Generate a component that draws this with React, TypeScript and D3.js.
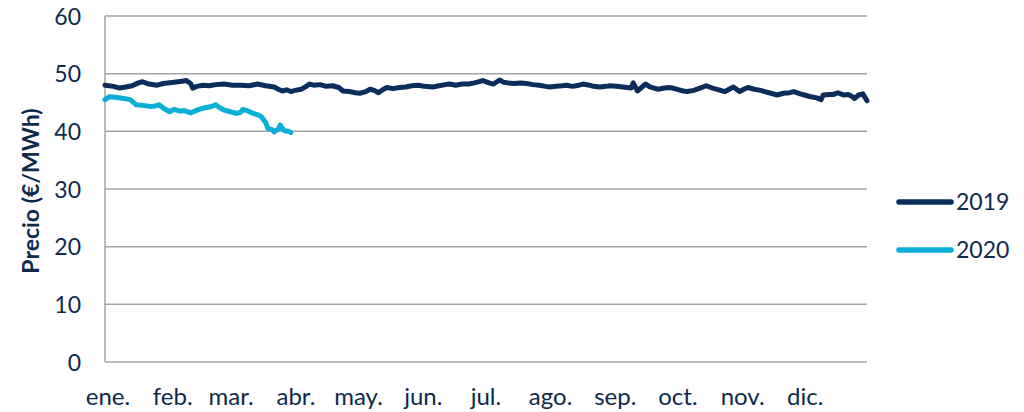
import React, { useEffect, useRef } from 'react';
import * as d3 from 'd3';

// day of year -> price (€/MWh)
const days2019 = [0, 4, 7, 10, 13, 16, 18, 21, 25, 28, 30, 33, 35, 37, 39, 41, 42, 44, 47, 50, 53, 57, 61, 65, 69, 73, 77, 81, 83, 85, 87, 89, 91, 94, 96, 98, 100, 103, 106, 109, 112, 114, 117, 120, 122, 125, 127, 129, 131, 133, 135, 138, 141, 144, 147, 150, 153, 157, 160, 163, 165, 168, 171, 174, 177, 181, 184, 186, 189, 191, 193, 196, 199, 202, 205, 208, 211, 213, 216, 219, 221, 224, 227, 229, 232, 234, 237, 240, 242, 245, 248, 250, 252, 253, 255, 257, 259, 261, 263, 265, 268, 270, 272, 275, 277, 279, 282, 285, 288, 291, 294, 297, 299, 301, 304, 306, 308, 311, 314, 316, 319, 322, 325, 328, 330, 333, 335, 338, 341, 343, 344, 347, 349, 351, 353, 354, 356, 358, 359, 361, 363, 365];
const values2019 = [48.0, 47.8, 47.5, 47.7, 47.9, 48.4, 48.6, 48.2, 48.0, 48.3, 48.4, 48.5, 48.6, 48.7, 48.8, 48.3, 47.5, 47.8, 48.0, 47.9, 48.1, 48.2, 48.0, 48.0, 47.9, 48.2, 47.9, 47.7, 47.3, 47.0, 47.2, 46.9, 47.1, 47.3, 47.7, 48.2, 48.0, 48.1, 47.8, 47.9, 47.6, 47.0, 46.9, 46.7, 46.6, 46.9, 47.3, 47.1, 46.7, 47.2, 47.6, 47.4, 47.6, 47.7, 47.9, 48.0, 47.8, 47.7, 47.9, 48.1, 48.2, 48.0, 48.2, 48.2, 48.4, 48.8, 48.4, 48.2, 48.9, 48.5, 48.4, 48.3, 48.4, 48.3, 48.1, 48.0, 47.8, 47.7, 47.8, 47.9, 48.0, 47.8, 48.0, 48.2, 48.0, 47.8, 47.7, 47.8, 47.9, 47.8, 47.7, 47.6, 47.5, 48.4, 47.0, 47.6, 48.2, 47.7, 47.5, 47.3, 47.5, 47.6, 47.5, 47.2, 47.0, 46.9, 47.1, 47.5, 47.9, 47.5, 47.2, 46.9, 47.3, 47.7, 46.9, 47.3, 47.6, 47.3, 47.1, 46.9, 46.6, 46.3, 46.6, 46.7, 46.9, 46.5, 46.3, 46.0, 45.8, 45.5, 46.3, 46.4, 46.4, 46.7, 46.4, 46.3, 46.4, 46.0, 45.7, 46.3, 46.5, 45.3];

const days2020 = [0, 2, 5, 9, 12, 15, 18, 22, 24, 26, 28, 31, 33, 36, 38, 41, 43, 45, 48, 51, 53, 55, 57, 60, 63, 65, 66, 68, 71, 73, 75, 77, 78, 80, 81, 83, 84, 85, 86, 88, 89];
const values2020 = [45.5, 46.0, 45.9, 45.7, 45.5, 44.6, 44.5, 44.3, 44.4, 44.6, 44.0, 43.4, 43.8, 43.5, 43.6, 43.2, 43.5, 43.8, 44.1, 44.3, 44.6, 44.1, 43.7, 43.4, 43.1, 43.3, 43.8, 43.6, 43.1, 42.9, 42.5, 41.5, 40.5, 40.3, 39.9, 40.4, 41.1, 40.5, 40.1, 40.0, 39.8];

const monthLabels = ['ene.', 'feb.', 'mar.', 'abr.', 'may.', 'jun.', 'jul.', 'ago.', 'sep.', 'oct.', 'nov.', 'dic.'];
const monthStarts = [0, 31, 59, 90, 120, 151, 181, 212, 243, 273, 304, 334];
const yTicks = [0, 10, 20, 30, 40, 50, 60];

const seriesNames = ['2019', '2020'];
const seriesColors = ['#0C2D5A', '#0AAFD6'];

const App = () => {
  const svgRef = useRef<SVGSVGElement>(null);

  useEffect(() => {
    const width = 1024;
    const height = 412;
    const left = 105;
    const right = 867;
    const top = 16;
    const bottom = 362;
    const textColor = '#0E2A4D';
    const font = 'Lato, "Open Sans", sans-serif';

    const svg = d3.select(svgRef.current);
    svg.selectAll('*').remove();
    svg.attr('width', width).attr('height', height);

    const x = d3.scaleLinear().domain([0, 365]).range([left, right]);
    const y = d3.scaleLinear().domain([0, 60]).range([bottom, top]);

    // gridlines
    svg.append('g')
      .selectAll('line')
      .data(yTicks)
      .enter()
      .append('line')
      .attr('x1', left)
      .attr('x2', right)
      .attr('y1', d => y(d))
      .attr('y2', d => y(d))
      .attr('stroke', '#A3A4AA')
      .attr('stroke-width', 1.5);

    // y axis line
    svg.append('line')
      .attr('x1', left).attr('x2', left)
      .attr('y1', top).attr('y2', bottom)
      .attr('stroke', '#A3A4AA')
      .attr('stroke-width', 1.5);

    // y tick labels
    svg.append('g')
      .selectAll('text')
      .data(yTicks)
      .enter()
      .append('text')
      .attr('x', 81)
      .attr('y', d => y(d) + 8.5)
      .attr('text-anchor', 'end')
      .style('font-family', font)
      .style('font-size', '23px')
      .style('fill', textColor)
      .text(d => d);

    // month labels
    svg.append('g')
      .selectAll('text')
      .data(monthStarts)
      .enter()
      .append('text')
      .attr('x', d => x(d) + 3)
      .attr('y', 405)
      .attr('text-anchor', 'middle')
      .style('font-family', font)
      .style('font-size', '24px')
      .style('fill', textColor)
      .text((d, i) => monthLabels[i]);

    // y axis title
    svg.append('text')
      .attr('transform', `translate(39, ${(top + bottom) / 2 + 2}) rotate(-90)`)
      .attr('text-anchor', 'middle')
      .style('font-family', font)
      .style('font-size', '23px')
      .style('font-weight', '700')
      .style('fill', textColor)
      .text('Precio (€/MWh)');

    const line = d3.line<[number, number]>()
      .x(d => x(d[0]))
      .y(d => y(d[1]))
      .curve(d3.curveLinear);

    const series: [number, number][][] = [
      days2019.map((d, i) => [d, values2019[i]]),
      days2020.map((d, i) => [d, values2020[i]]),
    ];

    series.forEach((data, i) => {
      svg.append('path')
        .datum(data)
        .attr('d', line)
        .attr('fill', 'none')
        .attr('stroke', seriesColors[i])
        .attr('stroke-width', 5)
        .attr('stroke-linejoin', 'round')
        .attr('stroke-linecap', 'round');
    });

    // legend
    seriesNames.forEach((name, i) => {
      const ly = 202 + i * 48;
      svg.append('line')
        .attr('x1', 899).attr('x2', 951)
        .attr('y1', ly).attr('y2', ly)
        .attr('stroke', seriesColors[i])
        .attr('stroke-width', 5.5)
        .attr('stroke-linecap', 'round');
      svg.append('text')
        .attr('x', 956)
        .attr('y', ly + 8)
        .style('font-family', font)
        .style('font-size', '23px')
        .style('fill', textColor)
        .text(name);
    });
  }, []);

  return (
    <div style={{ position: 'absolute', left: 0, top: 0, width: 1024, height: 412, background: '#fff' }}>
      <svg ref={svgRef}></svg>
    </div>
  );
};

export default App;
